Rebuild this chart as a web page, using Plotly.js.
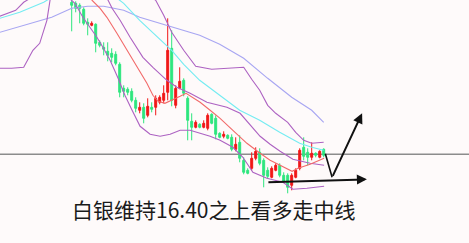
<!DOCTYPE html>
<html>
<head>
<meta charset="utf-8">
<script src="https://cdn.plot.ly/plotly-3.0.1.min.js"></script>
<style>html,body{margin:0;padding:0;background:#fefafa;}#chart{width:469px;height:243px;}</style>
</head>
<body>
<div id="chart"></div>
<script>
// Candles: bar index and OHLC prices
const barIndex = [17,18,19,20,21,22,23,24,25,26,27,28,29,30,31,32,33,34,35,36,37,38,39,40,41,42,43,44,45,46,47,48,49,50,51,52,53,54,55,56,57,58,59,60,61,62,63,64,65,66,67,68,69,70,71,72,73,74,75,76,77,78,79,80];
const openP  = [17.92,17.91,17.89,17.85,17.72,17.69,17.70,17.52,17.47,17.43,17.41,17.40,17.30,17.06,17.05,17.03,16.94,16.84,16.87,16.79,16.87,16.87,16.92,16.94,17.02,17.46,16.89,17.06,17.14,16.96,16.73,16.67,16.70,16.67,16.66,16.80,16.76,16.61,16.58,16.59,16.57,16.45,16.52,16.34,16.24,16.26,16.36,16.42,16.34,16.24,16.17,16.24,16.29,16.19,16.19,16.09,16.17,16.26,16.47,16.42,16.37,16.41,16.37,16.45];
const highP  = [17.96,17.93,17.91,17.87,17.76,17.73,17.71,17.54,17.52,17.52,17.46,17.43,17.32,17.09,17.07,17.06,16.97,16.92,16.91,16.96,16.92,16.99,16.99,17.09,17.76,17.64,17.09,17.27,17.16,16.98,16.81,16.74,16.71,16.74,16.81,16.81,16.79,16.62,16.63,16.60,16.60,16.57,16.59,16.37,16.26,16.42,16.47,16.46,16.36,16.27,16.28,16.31,16.31,16.22,16.21,16.21,16.26,16.46,16.57,16.46,16.52,16.42,16.44,16.46];
const lowP   = [17.63,17.82,17.71,17.69,17.59,17.68,17.42,17.47,17.39,17.33,17.32,17.29,16.97,16.97,16.99,16.92,16.82,16.81,16.71,16.77,16.82,16.79,16.90,16.91,16.94,16.88,16.86,17.05,16.98,16.54,16.54,16.66,16.66,16.66,16.64,16.70,16.55,16.56,16.56,16.55,16.43,16.43,16.32,16.20,16.20,16.24,16.34,16.29,16.07,16.16,16.16,16.23,16.17,16.12,16.01,16.04,16.16,16.24,16.34,16.29,16.34,16.37,16.36,16.37];
const closeP = [17.89,17.86,17.86,17.71,17.70,17.71,17.51,17.49,17.45,17.39,17.37,17.31,17.02,17.03,17.02,16.94,16.86,16.87,16.76,16.88,16.85,16.96,16.97,17.01,17.44,16.94,17.06,17.13,17.01,16.74,16.67,16.72,16.67,16.71,16.79,16.71,16.60,16.57,16.60,16.56,16.45,16.50,16.36,16.22,16.21,16.36,16.43,16.31,16.19,16.18,16.26,16.29,16.19,16.13,16.07,16.19,16.24,16.44,16.38,16.37,16.41,16.39,16.43,16.39];

// Indicator lines (bar index, price); null splits segments
const lavX = [-1,5,12,17,21,25,30,34,42,49,54,60,66,72,77,80];
const lavY = [17.62,17.69,17.77,17.86,17.88,17.88,17.84,17.77,17.67,17.59,17.50,17.36,17.16,16.97,16.84,16.72];

const cyanX = [-1,4,10,12,null,28,30,34,38,42,45,49,54,59,64,69,74,77,80];
const cyanY = [17.76,17.82,17.92,17.97,null,17.97,17.91,17.74,17.59,17.44,17.30,17.14,16.99,16.84,16.74,16.62,16.51,16.47,16.44];

const upperX = [-1,3,5,7,null,37,38,40,42,45,48,52,57,60,62,64,66,68,71,73,75,77,80];
const upperY = [17.78,17.84,17.92,17.97,null,17.97,17.94,17.79,17.62,17.44,17.28,17.25,17.26,17.27,17.15,17.04,16.89,16.81,16.72,16.62,16.54,16.51,16.52];

const midX = [-1,2,5,6,7.3,9,10.8,11.7,null,25.6,26.1,27.1,29.1,31.6,34.8,37.3,40.8,43.3,46.6,50.8,55.8,59.1,61.6,64.1,66.6,69.1,72.3,76.6,80.1];
const midY = [17.26,17.26,17.27,17.34,17.44,17.51,17.74,17.97,null,17.97,17.94,17.86,17.74,17.57,17.37,17.27,17.14,17.07,17.01,16.92,16.87,16.81,16.69,16.58,16.50,16.43,16.35,16.31,16.29];

const lowerX = [16.1,17.1,17.8,19.8,21.6,23.3,24.8,26.6,28.6,30.3,32.1,34.1,36.6,39.1,41.6,44.1,46.6,49.1,51.6,54.1,57.3,59.8,62.3,65.8,69.8,72.3,75.8,80.1];
const lowerY = [17.97,17.94,17.91,17.77,17.67,17.57,17.47,17.34,17.16,16.99,16.84,16.68,16.60,16.58,16.60,16.64,16.64,16.61,16.58,16.54,16.47,16.37,16.22,16.16,16.12,16.05,16.06,16.08];

const maX = [21.6,22.1,24.1,25.8,28.3,30.8,33.3,35.8,37.3,38.6,40.3,42.1,44.1,45.6,47.3,49.1,51.6,54.1,57.3,60.8,64.1,66.6,69.1,72.1,73.6,76.6,80.1];
const maY = [17.97,17.94,17.86,17.77,17.61,17.44,17.27,17.11,16.99,16.93,16.91,16.94,16.98,17.01,16.97,16.92,16.84,16.76,16.64,16.51,16.41,16.34,16.29,16.23,16.26,16.30,16.36];

// Support level and forecast arrows
const supportLevel = 16.40;
const flatArrow = {x0: 65.8, y0: 16.12, x1: 90.8, y1: 16.15};
const vArrowX = [80.3, 82.1, 89.6];
const vArrowY = [16.42, 16.17, 16.81];
const caption = '白银维持16.40之上看多走中线';

const lineTrace = (x, y, color) => ({type:'scatter', mode:'lines', x, y, connectgaps:false,
  line:{color, width:1.1}, hoverinfo:'skip', showlegend:false});

const data = [
  lineTrace(lavX, lavY, '#a8a6f2'),
  lineTrace(cyanX, cyanY, '#74ecf2'),
  lineTrace(upperX, upperY, '#ad62c2'),
  lineTrace(midX, midY, '#ad62c2'),
  lineTrace(lowerX, lowerY, '#ad62c2'),
  lineTrace(maX, maY, '#f26a6a'),
  {type:'candlestick', x:barIndex, open:openP, high:highP, low:lowP, close:closeP,
   increasing:{line:{color:'#f01818', width:1}, fillcolor:'#f01818'},
   decreasing:{line:{color:'#2ee67e', width:1}, fillcolor:'#2ee67e'},
   whiskerwidth:0, showlegend:false, hoverinfo:'skip'}
];

const arrowBase = {xref:'x', yref:'y', axref:'x', ayref:'y', text:'', showarrow:true,
  arrowcolor:'#111111', arrowwidth:2, arrowhead:2, arrowsize:1};

const layout = {
  width:469, height:243,
  margin:{l:0, r:0, t:0, b:0},
  paper_bgcolor:'#fefafa', plot_bgcolor:'#fefafa',
  showlegend:false,
  boxgap:0.3,
  xaxis:{range:[-0.925, 116.325], visible:false, fixedrange:true, rangeslider:{visible:false}},
  yaxis:{range:[15.513, 17.943], visible:false, fixedrange:true},
  shapes:[{type:'line', xref:'paper', x0:0, x1:1, yref:'y', y0:supportLevel, y1:supportLevel,
           line:{color:'#8c8c8c', width:1.5}, layer:'below'}],
  annotations:[
    Object.assign({}, arrowBase, {x:flatArrow.x1, y:flatArrow.y1, ax:flatArrow.x0, ay:flatArrow.y0}),
    Object.assign({}, arrowBase, {x:vArrowX[1], y:vArrowY[1], ax:vArrowX[0], ay:vArrowY[0], arrowhead:0, arrowwidth:1.6}),
    Object.assign({}, arrowBase, {x:vArrowX[2], y:vArrowY[2], ax:vArrowX[1], ay:vArrowY[1]}),
    {xref:'paper', yref:'paper', x:0.455, y:0.14, xanchor:'center', yanchor:'middle', showarrow:false,
     text:caption, font:{family:'"Noto Sans CJK SC", "Noto Sans", sans-serif', size:21, color:'#1a1a1a'}}
  ]
};

Plotly.newPlot('chart', data, layout, {staticPlot:true, displayModeBar:false});
</script>
</body>
</html>
